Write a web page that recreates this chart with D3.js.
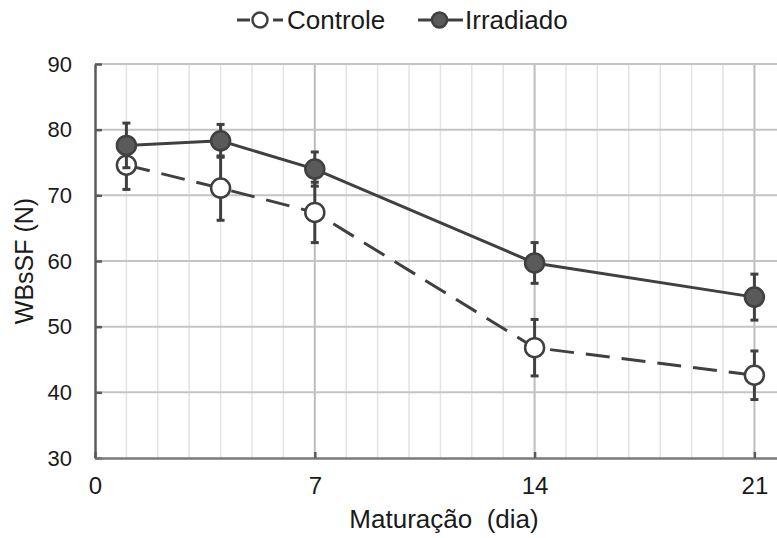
<!DOCTYPE html>
<meta charset="utf-8">
<script src="https://d3js.org/d3.v7.min.js"></script>
<style>
body { margin: 0; background: #fff; }
text { font-family: "Liberation Sans", Arial, sans-serif; fill: #1a1a1a; white-space: pre; }
</style>
<div id="chart"></div>
<script>
// data
const days = [1, 4, 7, 14, 21];
const controle = [74.6, 71.1, 67.4, 46.8, 42.6];
const controleErr = [3.7, 4.9, 4.6, 4.3, 3.7];
const irradiado = [77.6, 78.3, 74.0, 59.7, 54.5];
const irradiadoErr = [3.4, 2.5, 2.6, 3.1, 3.5];
const xTicks = [0, 7, 14, 21];
const yTicks = [30, 40, 50, 60, 70, 80, 90];

const width = 777, height = 538;
const margin = {left: 95, right: 0, top: 64, bottom: 80};
const ink = '#404040';

const svg = d3.select('#chart').append('svg')
	.attr('width', width)
	.attr('height', height);

const x = d3.scaleLinear().domain([0, 21.72]).range([margin.left, width - margin.right]);
const y = d3.scaleLinear().domain([30, 90]).range([height - margin.bottom, margin.top]);

// grid
const grid = svg.append('g');
grid.selectAll('line.vg')
	.data(d3.range(1, 22))
	.join('line')
	.attr('x1', d => x(d)).attr('x2', d => x(d))
	.attr('y1', y(30)).attr('y2', y(90))
	.attr('stroke', d => d % 7 == 0 ? '#bdbdbd' : '#e3e3e3')
	.attr('stroke-width', d => d % 7 == 0 ? 2 : 1.5);
grid.selectAll('line.hg')
	.data(yTicks.slice(1))
	.join('line')
	.attr('x1', x(0)).attr('x2', width)
	.attr('y1', d => y(d)).attr('y2', d => y(d))
	.attr('stroke', '#c4c4c4')
	.attr('stroke-width', 2);

// axes
const yAxis = svg.append('g')
	.attr('transform', `translate(${x(0)},0)`)
	.call(d3.axisLeft(y).tickValues(yTicks).tickSizeInner(-7).tickSizeOuter(0).tickPadding(23));
yAxis.select('.domain').attr('stroke', '#5a5a5a').attr('stroke-width', 2.5);
yAxis.selectAll('.tick line').attr('stroke', '#5a5a5a').attr('stroke-width', 2.5);
yAxis.selectAll('.tick text').attr('font-size', 22).attr('fill', '#1a1a1a');

const xAxis = svg.append('g')
	.attr('transform', `translate(0,${y(30)})`)
	.call(d3.axisBottom(x).tickValues(xTicks).tickSizeInner(-6).tickSizeOuter(0).tickPadding(19));
xAxis.select('.domain').attr('stroke', '#7a7a7a').attr('stroke-width', 2.5);
xAxis.selectAll('.tick line').attr('stroke', '#5a5a5a').attr('stroke-width', 2.5);
xAxis.selectAll('.tick text').attr('font-size', 24).attr('fill', '#1a1a1a');

// axis titles
svg.append('text')
	.attr('x', 444).attr('y', 528)
	.attr('text-anchor', 'middle')
	.attr('font-size', 26)
	.text('Maturação  (dia)');
svg.append('text')
	.attr('transform', `translate(33,${(y(30) + y(90)) / 2}) rotate(-90)`)
	.attr('text-anchor', 'middle')
	.attr('font-size', 25)
	.text('WBsSF (N)');

function drawSeries(vals, errs, fill, dash) {
	const pts = days.map((d, i) => ({x: d, y: vals[i], e: errs[i]}));
	const g = svg.append('g');
	g.append('path')
		.datum(pts)
		.attr('fill', 'none')
		.attr('stroke', ink)
		.attr('stroke-width', 3)
		.attr('stroke-dasharray', dash)
		.attr('d', d3.line().x(d => x(d.x)).y(d => y(d.y)));
	return {g: g, pts: pts, fill: fill};
}

function drawErrors(s) {
	s.g.selectAll('line.err')
		.data(s.pts)
		.join('line')
		.attr('x1', d => x(d.x)).attr('x2', d => x(d.x))
		.attr('y1', d => y(d.y - d.e)).attr('y2', d => y(d.y + d.e))
		.attr('stroke', ink).attr('stroke-width', 3);
	s.g.selectAll('line.cap')
		.data(s.pts.flatMap(d => [d.y - d.e, d.y + d.e].map(v => ({x: d.x, v: v}))))
		.join('line')
		.attr('x1', d => x(d.x) - 4).attr('x2', d => x(d.x) + 4)
		.attr('y1', d => y(d.v)).attr('y2', d => y(d.v))
		.attr('stroke', ink).attr('stroke-width', 3);
}

function drawMarkers(s) {
	s.g.selectAll('circle')
		.data(s.pts)
		.join('circle')
		.attr('cx', d => x(d.x)).attr('cy', d => y(d.y))
		.attr('r', 9.5)
		.attr('fill', s.fill)
		.attr('stroke', ink)
		.attr('stroke-width', 2.5);
}

const sCtrl = drawSeries(controle, controleErr, '#ffffff', '24,12');
const sIrr = drawSeries(irradiado, irradiadoErr, '#5a5a5a', null);
drawErrors(sCtrl);
drawErrors(sIrr);
drawMarkers(sIrr);
drawMarkers(sCtrl);

// legend
const legend = [
	{name: 'Controle', fill: '#ffffff', dash: '13,23,10,20', x0: 237, x1: 285, cx: 260, tx: 287},
	{name: 'Irradiado', fill: '#5a5a5a', dash: null, x0: 418, x1: 463, cx: 439.5, tx: 465}
];
const lg = svg.append('g');
legend.forEach(l => {
	lg.append('line')
		.attr('x1', l.x0).attr('x2', l.x1)
		.attr('y1', 20).attr('y2', 20)
		.attr('stroke', ink).attr('stroke-width', 3)
		.attr('stroke-dasharray', l.dash);
	lg.append('circle')
		.attr('cx', l.cx).attr('cy', 20)
		.attr('r', 7.5)
		.attr('fill', l.fill)
		.attr('stroke', ink).attr('stroke-width', 2.5);
	lg.append('text')
		.attr('x', l.tx).attr('y', 29)
		.attr('font-size', 26)
		.text(l.name);
});
</script>
